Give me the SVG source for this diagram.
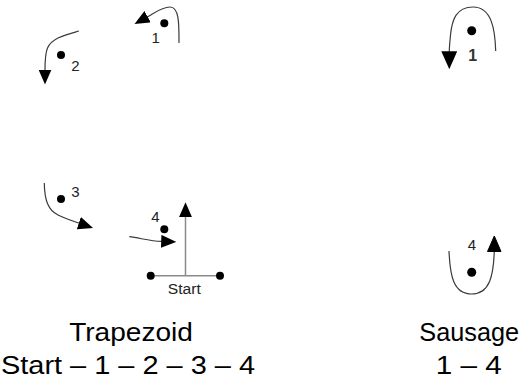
<svg xmlns="http://www.w3.org/2000/svg" width="526" height="383" viewBox="0 0 526 383">
<style>
.ln{fill:none;stroke:#3a3a3a;stroke-width:1.2}
.ax{fill:none;stroke:#8a8a8a;stroke-width:1.5}
.dot{fill:#000}
.lbl{font-family:"Liberation Sans",Arial,sans-serif;font-size:15px;fill:#222;text-anchor:middle}
.cap{font-family:"Liberation Sans",Arial,sans-serif;font-size:26px;fill:#000;text-anchor:middle}
</style>
<defs>
<marker id="ah" markerUnits="userSpaceOnUse" markerWidth="15" markerHeight="13" viewBox="0 0 15 13" refX="0.5" refY="6.5" orient="auto">
<path d="M0,0 L15,6.5 L0,13 Z" fill="#000"/>
</marker>
<marker id="ahL" markerUnits="userSpaceOnUse" markerWidth="18" markerHeight="16" viewBox="0 0 18 16" refX="0.5" refY="8" orient="auto">
<path d="M0,0 L18,8 L0,16 Z" fill="#000"/>
</marker>
</defs>
<rect width="526" height="383" fill="#fff"/>
<g id="connectors">
<path class="ln" d="M179,43 C179,25 179.5,7 170,7 C162,7 156,12 147.2,16.9" marker-end="url(#ah)"/>
<path class="ln" d="M79,31 C65,35 52,38 47.5,48 C45,54 45,62 45,70" marker-end="url(#ah)"/>
<path class="ln" d="M44.3,183 C44.5,200 48,210 58,215 C64,218 71,220.5 79.3,223.3" marker-end="url(#ah)"/>
<path class="ln" d="M129.3,236.7 C140,238 150,241 161.7,241.4" marker-end="url(#ah)"/>
<path class="ax" d="M150.7,275.7 L220,275.7"/>
<path class="ax" d="M185.5,275.7 L185.5,216.7" marker-end="url(#ah)"/>
<path class="ln" d="M495.7,51 C495,30 492,7 473,7 C456,7 452,20 450.5,35 C449.6,44 449.3,48 449.3,51.7" marker-end="url(#ahL)"/>
<path class="ln" d="M449,251 C450,275 453,294 471.7,294 C490,294 493.5,275 494.3,251"/>
<path d="M494.3,236 L487.5,251.5 L501,251.5 Z" fill="#000" stroke="#000" stroke-width="1"/>
</g>
<g id="t1"><circle class="dot" cx="164.3" cy="23.3" r="4"/><text class="lbl" x="155.7" y="42.5">1</text></g>
<g id="t2"><circle class="dot" cx="61" cy="55" r="4"/><text class="lbl" x="75.5" y="70.7">2</text></g>
<g id="t3"><circle class="dot" cx="61" cy="199" r="4"/><text class="lbl" x="75.5" y="196.7">3</text></g>
<g id="t4"><circle class="dot" cx="164.3" cy="229.3" r="4"/><text class="lbl" x="155.5" y="221.7">4</text></g>
<g id="start">
<circle class="dot" cx="150.7" cy="275.7" r="4"/>
<circle class="dot" cx="220" cy="275.7" r="4"/>
<text class="lbl" x="184.3" y="294" style="font-size:14px" textLength="33" lengthAdjust="spacingAndGlyphs">Start</text>
</g>
<g id="s1"><circle class="dot" cx="471.7" cy="30.7" r="4.5"/><text class="lbl" x="472.7" y="61" style="font-size:16px;font-weight:bold;fill:#333">1</text></g>
<g id="s4"><circle class="dot" cx="471.7" cy="272.3" r="4.5"/><text class="lbl" x="472" y="250">4</text></g>
<g id="captions">
<text class="cap" x="131" y="340.7" textLength="123.7" lengthAdjust="spacingAndGlyphs">Trapezoid</text>
<text class="cap" x="128" y="374.3" textLength="254" lengthAdjust="spacingAndGlyphs">Start – 1 – 2 – 3 – 4</text>
<text class="cap" x="469.2" y="340.7" textLength="99.7" lengthAdjust="spacingAndGlyphs">Sausage</text>
<text class="cap" x="468.7" y="374" textLength="66" lengthAdjust="spacingAndGlyphs">1 – 4</text>
</g>
</svg>
